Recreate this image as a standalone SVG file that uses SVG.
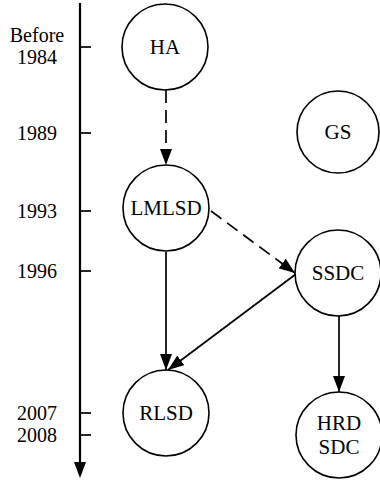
<svg xmlns="http://www.w3.org/2000/svg" width="380" height="483" viewBox="0 0 380 483">
<style>
text{font-family:"Liberation Serif","Times New Roman",serif;fill:#000;text-anchor:middle}
.lab{font-size:20px}
.nt{font-size:21px}
circle{fill:#fff;stroke:#000;stroke-width:1.6}
.ln{stroke:#000;stroke-width:1.7;fill:none}
.ds{stroke-dasharray:13 7}
</style>
<defs>
<marker id="ah" viewBox="0 0 16 12" refX="16" refY="6" markerWidth="16" markerHeight="12" markerUnits="userSpaceOnUse" orient="auto">
<path d="M0,0 L16,6 L0,12 Z" fill="#000"/>
</marker>
</defs>
<g id="axis">
<line class="ln" x1="80" y1="3" x2="80" y2="463" style="stroke-width:2.2"/>
<path d="M74,462 L86,462 L80,478 Z" fill="#000"/>
<line class="ln" x1="80" y1="47" x2="91" y2="47"/>
<line class="ln" x1="80" y1="133" x2="91" y2="133"/>
<line class="ln" x1="80" y1="211" x2="91" y2="211"/>
<line class="ln" x1="80" y1="271" x2="91" y2="271"/>
<line class="ln" x1="80" y1="413" x2="91" y2="413"/>
<line class="ln" x1="80" y1="435" x2="91" y2="435"/>
<text class="lab" x="37" y="42">Before</text>
<text class="lab" x="37" y="64">1984</text>
<text class="lab" x="37" y="140">1989</text>
<text class="lab" x="37" y="218">1993</text>
<text class="lab" x="37" y="278">1996</text>
<text class="lab" x="37" y="420">2007</text>
<text class="lab" x="37" y="442">2008</text>
</g>
<g id="connectors">
<line class="ln ds" x1="166" y1="90" x2="166" y2="165" marker-end="url(#ah)"/>
<line class="ln ds" x1="211" y1="211" x2="295" y2="273" marker-end="url(#ah)"/>
<line class="ln" x1="166" y1="252" x2="166" y2="370" marker-end="url(#ah)"/>
<line class="ln" x1="296" y1="274" x2="168" y2="370" marker-end="url(#ah)"/>
<line class="ln" x1="339" y1="316" x2="339" y2="392" marker-end="url(#ah)"/>
</g>
<g id="HA"><circle cx="165" cy="47" r="43"/><text class="nt" x="165" y="54">HA</text></g>
<g id="GS"><circle cx="338" cy="132" r="41"/><text class="nt" x="338" y="139">GS</text></g>
<g id="LMLSD"><circle cx="166" cy="208" r="43"/><text class="nt" x="166" y="215">LMLSD</text></g>
<g id="SSDC"><circle cx="338" cy="273" r="43"/><text class="nt" x="338" y="280">SSDC</text></g>
<g id="RLSD"><circle cx="166" cy="413" r="43"/><text class="nt" x="166" y="420">RLSD</text></g>
<g id="HRDSDC"><circle cx="339" cy="435" r="43"/><text class="nt" x="339" y="430">HRD</text><text class="nt" x="339" y="454">SDC</text></g>
</svg>
